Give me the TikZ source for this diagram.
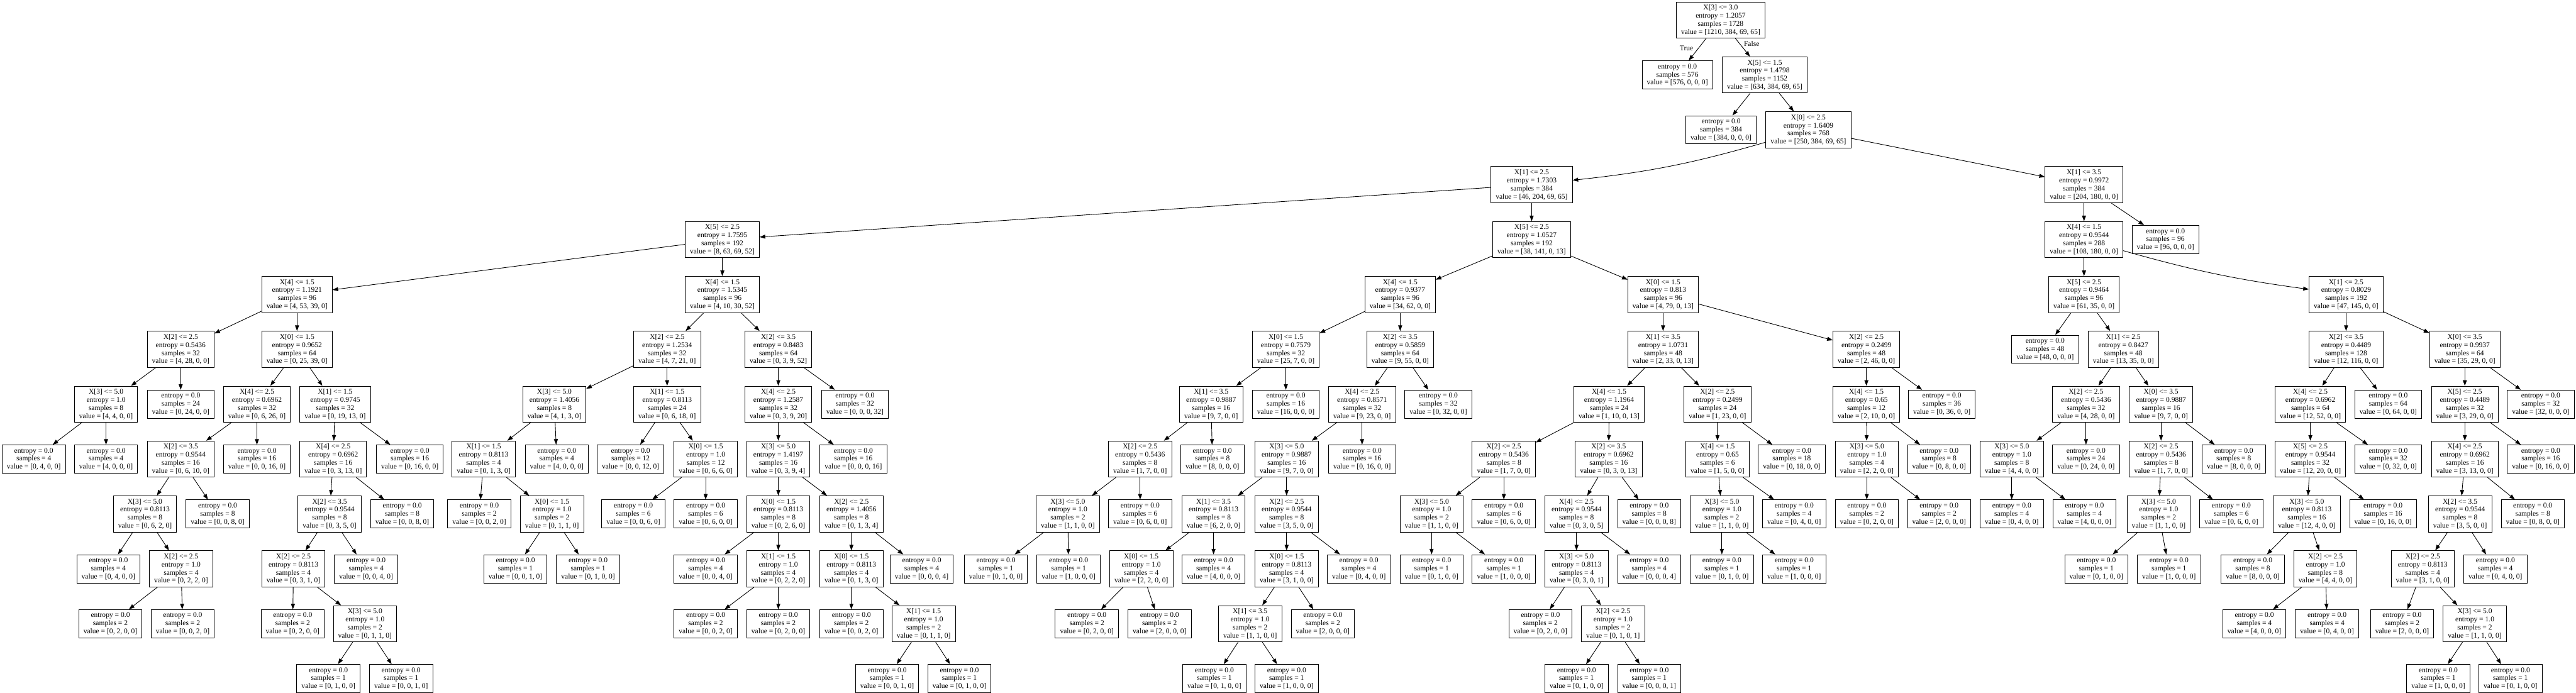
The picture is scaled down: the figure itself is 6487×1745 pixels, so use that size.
\documentclass[tikz,border=0pt]{standalone}
\usepackage{fontspec}
\setmainfont{Liberation Serif}
\usetikzlibrary{arrows.meta}
\newcommand{\Snode}[7]{\node[tbox,minimum height=0.91cm] (#1) at (#2,{50.5+138.2*#3}) {#4\\entropy = #5\\samples = #6\\value = [#7]};}
\newcommand{\Lnode}[5]{\node[tbox,minimum height=0.71cm] (#1) at (#2,{50.5+138.2*#3}) {entropy = 0.0\\samples = #4\\value = [#5]};}
\newcommand{\KK}[1]{\draw[edge] (#1) -- (#1l); \draw[edge] (#1) -- (#1r);}
\begin{document}
\begin{tikzpicture}[x=0.01cm, y=-0.01cm,
  tbox/.style={draw=black, line width=0.4pt, rectangle, align=center, inner xsep=0.12cm, inner ysep=0.04cm, font=\fontsize{5.2pt}{5.78pt}\selectfont},
  edge/.style={draw=black, line width=0.4pt, -{Triangle[length=0.14cm,width=0.1cm]}},
  lbl/.style={font=\fontsize{5.2pt}{5.78pt}\selectfont, inner sep=0pt}]
\fill[white] (0,0) rectangle (6487,1745);
\useasboundingbox (0,0) rectangle (6487,1745);
% top
\Snode{a}{4333}{0}{X[3] <= 3.0}{1.2057}{1728}{1210, 384, 69, 65}
\Lnode{al}{4224}{1}{576}{576, 0, 0, 0}
\Snode{ar}{4444}{1}{X[5] <= 1.5}{1.4798}{1152}{634, 384, 69, 65}
\Lnode{arl}{4334}{2}{384}{384, 0, 0, 0}
\Snode{arr}{4554}{2}{X[0] <= 2.5}{1.6409}{768}{250, 384, 69, 65}
\Snode{A}{3857}{3}{X[1] <= 2.5}{1.7303}{384}{46, 204, 69, 65}
\Snode{B}{5248}{3}{X[1] <= 3.5}{0.9972}{384}{204, 180, 0, 0}
% Al subtree
\Snode{Al}{1819}{4}{X[5] <= 2.5}{1.7595}{192}{8, 63, 69, 52}
\Snode{All}{748}{5}{X[4] <= 1.5}{1.1921}{96}{4, 53, 39, 0}
\Snode{Alll}{455}{6}{X[2] <= 2.5}{0.5436}{32}{4, 28, 0, 0}
\Snode{Allll}{267}{7}{X[3] <= 5.0}{1.0}{8}{4, 4, 0, 0}
\Lnode{Alllr}{455}{7}{24}{0, 24, 0, 0}
\Lnode{Alllll}{85}{8}{4}{0, 4, 0, 0}
\Lnode{Allllr}{267}{8}{4}{4, 0, 0, 0}
\Snode{Allr}{748}{6}{X[0] <= 1.5}{0.9652}{64}{0, 25, 39, 0}
\Snode{Allrl}{647}{7}{X[4] <= 2.5}{0.6962}{32}{0, 6, 26, 0}
\Snode{Allrll}{455}{8}{X[2] <= 3.5}{0.9544}{16}{0, 6, 10, 0}
\Lnode{Allrlr}{647}{8}{16}{0, 0, 16, 0}
\Snode{Allrlll}{365}{9}{X[3] <= 5.0}{0.8113}{8}{0, 6, 2, 0}
\Lnode{Allrllr}{548}{9}{8}{0, 0, 8, 0}
\Lnode{Allrllll}{273}{10}{4}{0, 4, 0, 0}
\Snode{Allrlllr}{456}{10}{X[2] <= 2.5}{1.0}{4}{0, 2, 2, 0}
\Lnode{Allrlllrl}{278}{11}{2}{0, 2, 0, 0}
\Lnode{Allrlllrr}{460}{11}{2}{0, 0, 2, 0}
\Snode{Allrr}{844}{7}{X[1] <= 1.5}{0.9745}{32}{0, 19, 13, 0}
\Snode{Allrrl}{839}{8}{X[4] <= 2.5}{0.6962}{16}{0, 3, 13, 0}
\Lnode{Allrrr}{1032}{8}{16}{0, 16, 0, 0}
\Snode{Allrrll}{830}{9}{X[2] <= 3.5}{0.9544}{8}{0, 3, 5, 0}
\Lnode{Allrrlr}{1013}{9}{8}{0, 0, 8, 0}
\Snode{Allrrlll}{739}{10}{X[2] <= 2.5}{0.8113}{4}{0, 3, 1, 0}
\Lnode{Allrrllr}{922}{10}{4}{0, 0, 4, 0}
\Lnode{Allrrllll}{737}{11}{2}{0, 2, 0, 0}
\Snode{Allrrlllr}{919}{11}{X[3] <= 5.0}{1.0}{2}{0, 1, 1, 0}
\Lnode{Allrrlllrl}{827}{12}{1}{0, 1, 0, 0}
\Lnode{Allrrlllrr}{1010}{12}{1}{0, 0, 1, 0}
% Alr subtree
\Snode{Alr}{1819}{5}{X[4] <= 1.5}{1.5345}{96}{4, 10, 30, 52}
\Snode{Alrl}{1680}{6}{X[2] <= 2.5}{1.2534}{32}{4, 7, 21, 0}
\Snode{Alrll}{1396}{7}{X[3] <= 5.0}{1.4056}{8}{4, 1, 3, 0}
\Snode{Alrlll}{1218}{8}{X[1] <= 1.5}{0.8113}{4}{0, 1, 3, 0}
\Lnode{Alrllr}{1402}{8}{4}{4, 0, 0, 0}
\Lnode{Alrllll}{1207}{9}{2}{0, 0, 2, 0}
\Snode{Alrlllr}{1390}{9}{X[0] <= 1.5}{1.0}{2}{0, 1, 1, 0}
\Lnode{Alrlllrl}{1298}{10}{1}{0, 0, 1, 0}
\Lnode{Alrlllrr}{1481}{10}{1}{0, 1, 0, 0}
\Snode{Alrlr}{1680}{7}{X[1] <= 1.5}{0.8113}{24}{0, 6, 18, 0}
\Lnode{Alrlrl}{1588}{8}{12}{0, 0, 12, 0}
\Snode{Alrlrr}{1777}{8}{X[0] <= 1.5}{1.0}{12}{0, 6, 6, 0}
\Lnode{Alrlrrl}{1595}{9}{6}{0, 0, 6, 0}
\Lnode{Alrlrrr}{1777}{9}{6}{0, 6, 0, 0}
\Snode{Alrr}{1960}{6}{X[2] <= 3.5}{0.8483}{64}{0, 3, 9, 52}
\Snode{Alrrl}{1960}{7}{X[4] <= 2.5}{1.2587}{32}{0, 3, 9, 20}
\Lnode{Alrrr}{2153}{7}{32}{0, 0, 0, 32}
\Snode{Alrrll}{1960}{8}{X[3] <= 5.0}{1.4197}{16}{0, 3, 9, 4}
\Lnode{Alrrlr}{2149}{8}{16}{0, 0, 0, 16}
\Snode{Alrrlll}{1960}{9}{X[0] <= 1.5}{0.8113}{8}{0, 2, 6, 0}
\Snode{Alrrllr}{2144}{9}{X[2] <= 2.5}{1.4056}{8}{0, 1, 3, 4}
\Lnode{Alrrllll}{1777}{10}{4}{0, 0, 4, 0}
\Snode{Alrrlllr}{1960}{10}{X[1] <= 1.5}{1.0}{4}{0, 2, 2, 0}
\Lnode{Alrrlllrl}{1777}{11}{2}{0, 0, 2, 0}
\Lnode{Alrrlllrr}{1960}{11}{2}{0, 2, 0, 0}
\Snode{Alrrllrl}{2144}{10}{X[0] <= 1.5}{0.8113}{4}{0, 1, 3, 0}
\Lnode{Alrrllrr}{2321}{10}{4}{0, 0, 0, 4}
\Lnode{Alrrllrll}{2144}{11}{2}{0, 0, 2, 0}
\Snode{Alrrllrlr}{2326}{11}{X[1] <= 1.5}{1.0}{2}{0, 1, 1, 0}
\Lnode{Alrrllrlrl}{2234}{12}{1}{0, 0, 1, 0}
\Lnode{Alrrllrlrr}{2416}{12}{1}{0, 1, 0, 0}
% Ar subtree
\Snode{Ar}{3857}{4}{X[5] <= 2.5}{1.0527}{192}{38, 141, 0, 13}
\Snode{Arl}{3526}{5}{X[4] <= 1.5}{0.9377}{96}{34, 62, 0, 0}
\Snode{Arll}{3238}{6}{X[0] <= 1.5}{0.7579}{32}{25, 7, 0, 0}
\Snode{Arlll}{3050}{7}{X[1] <= 3.5}{0.9887}{16}{9, 7, 0, 0}
\Lnode{Arllr}{3238}{7}{16}{16, 0, 0, 0}
\Snode{Arllll}{2871}{8}{X[2] <= 2.5}{0.5436}{8}{1, 7, 0, 0}
\Lnode{Arlllr}{3053}{8}{8}{8, 0, 0, 0}
\Snode{Arlllll}{2689}{9}{X[3] <= 5.0}{1.0}{2}{1, 1, 0, 0}
\Lnode{Arllllr}{2871}{9}{6}{0, 6, 0, 0}
\Lnode{Arllllll}{2508}{10}{1}{0, 1, 0, 0}
\Lnode{Arlllllr}{2691}{10}{1}{1, 0, 0, 0}
\Snode{Arlr}{3526}{6}{X[2] <= 3.5}{0.5859}{64}{9, 55, 0, 0}
\Snode{Arlrl}{3430}{7}{X[4] <= 2.5}{0.8571}{32}{9, 23, 0, 0}
\Lnode{Arlrr}{3622}{7}{32}{0, 32, 0, 0}
\Snode{Arlrll}{3240}{8}{X[3] <= 5.0}{0.9887}{16}{9, 7, 0, 0}
\Lnode{Arlrlr}{3430}{8}{16}{0, 16, 0, 0}
\Snode{Arlrlll}{3056}{9}{X[1] <= 3.5}{0.8113}{8}{6, 2, 0, 0}
\Snode{Arlrllr}{3240}{9}{X[2] <= 2.5}{0.9544}{8}{3, 5, 0, 0}
\Snode{Arlrllll}{2874}{10}{X[0] <= 1.5}{1.0}{4}{2, 2, 0, 0}
\Lnode{Arlrlllr}{3056}{10}{4}{4, 0, 0, 0}
\Lnode{Arlrlllll}{2737}{11}{2}{0, 2, 0, 0}
\Lnode{Arlrllllr}{2920}{11}{2}{2, 0, 0, 0}
\Snode{Arlrllrl}{3240}{10}{X[0] <= 1.5}{0.8113}{4}{3, 1, 0, 0}
\Lnode{Arlrllrr}{3422}{10}{4}{0, 4, 0, 0}
\Snode{Arlrllrll}{3148}{11}{X[1] <= 3.5}{1.0}{2}{1, 1, 0, 0}
\Lnode{Arlrllrlr}{3331}{11}{2}{2, 0, 0, 0}
\Lnode{Arlrllrlll}{3058}{12}{1}{0, 1, 0, 0}
\Lnode{Arlrllrllr}{3240}{12}{1}{1, 0, 0, 0}
\Snode{Arr}{4188}{5}{X[0] <= 1.5}{0.813}{96}{4, 79, 0, 13}
\Snode{Arrl}{4188}{6}{X[1] <= 3.5}{1.0731}{48}{2, 33, 0, 13}
\Snode{Arrll}{4052}{7}{X[4] <= 1.5}{1.1964}{24}{1, 10, 0, 13}
\Snode{Arrlll}{3787}{8}{X[2] <= 2.5}{0.5436}{8}{1, 7, 0, 0}
\Snode{Arrllll}{3605}{9}{X[3] <= 5.0}{1.0}{2}{1, 1, 0, 0}
\Lnode{Arrlllr}{3787}{9}{6}{0, 6, 0, 0}
\Lnode{Arrlllll}{3605}{10}{1}{0, 1, 0, 0}
\Lnode{Arrllllr}{3787}{10}{1}{1, 0, 0, 0}
\Snode{Arrllr}{4051}{8}{X[2] <= 3.5}{0.6962}{16}{0, 3, 0, 13}
\Snode{Arrllrl}{3970}{9}{X[4] <= 2.5}{0.9544}{8}{0, 3, 0, 5}
\Lnode{Arrllrr}{4153}{9}{8}{0, 0, 0, 8}
\Snode{Arrllrll}{3970}{10}{X[3] <= 5.0}{0.8113}{4}{0, 3, 0, 1}
\Lnode{Arrllrlr}{4153}{10}{4}{0, 0, 0, 4}
\Lnode{Arrllrlll}{3879}{11}{2}{0, 2, 0, 0}
\Snode{Arrllrllr}{4062}{11}{X[2] <= 2.5}{1.0}{2}{0, 1, 0, 1}
\Lnode{Arrllrllrl}{3970}{12}{1}{0, 1, 0, 0}
\Lnode{Arrllrllrr}{4153}{12}{1}{0, 0, 0, 1}
\Snode{Arrlr}{4325}{7}{X[2] <= 2.5}{0.2499}{24}{1, 23, 0, 0}
\Snode{Arrlrl}{4325}{8}{X[4] <= 1.5}{0.65}{6}{1, 5, 0, 0}
\Lnode{Arrlrr}{4512}{8}{18}{0, 18, 0, 0}
\Snode{Arrlrll}{4336}{9}{X[3] <= 5.0}{1.0}{2}{1, 1, 0, 0}
\Lnode{Arrlrlr}{4518}{9}{4}{0, 4, 0, 0}
\Lnode{Arrlrlll}{4336}{10}{1}{0, 1, 0, 0}
\Lnode{Arrlrllr}{4518}{10}{1}{1, 0, 0, 0}
\Snode{Arrr}{4700}{6}{X[2] <= 2.5}{0.2499}{48}{2, 46, 0, 0}
\Snode{Arrrl}{4700}{7}{X[4] <= 1.5}{0.65}{12}{2, 10, 0, 0}
\Lnode{Arrrr}{4890}{7}{36}{0, 36, 0, 0}
\Snode{Arrrll}{4701}{8}{X[3] <= 5.0}{1.0}{4}{2, 2, 0, 0}
\Lnode{Arrrlr}{4883}{8}{8}{0, 8, 0, 0}
\Lnode{Arrrlll}{4701}{9}{2}{0, 2, 0, 0}
\Lnode{Arrrllr}{4883}{9}{2}{2, 0, 0, 0}
% B subtree
\Snode{Bl}{5248}{4}{X[4] <= 1.5}{0.9544}{288}{108, 180, 0, 0}
\Lnode{Br}{5453}{4}{96}{96, 0, 0, 0}
\Snode{Bll}{5248}{5}{X[5] <= 2.5}{0.9464}{96}{61, 35, 0, 0}
\Lnode{Blll}{5150}{6}{48}{48, 0, 0, 0}
\Snode{Bllr}{5347}{6}{X[1] <= 2.5}{0.8427}{48}{13, 35, 0, 0}
\Snode{Bllrl}{5253}{7}{X[2] <= 2.5}{0.5436}{32}{4, 28, 0, 0}
\Snode{Bllrll}{5066}{8}{X[3] <= 5.0}{1.0}{8}{4, 4, 0, 0}
\Lnode{Bllrlr}{5253}{8}{24}{0, 24, 0, 0}
\Lnode{Bllrlll}{5066}{9}{4}{0, 4, 0, 0}
\Lnode{Bllrllr}{5249}{9}{4}{4, 0, 0, 0}
\Snode{Bllrr}{5442}{7}{X[0] <= 3.5}{0.9887}{16}{9, 7, 0, 0}
\Snode{Bllrrl}{5442}{8}{X[2] <= 2.5}{0.5436}{8}{1, 7, 0, 0}
\Lnode{Bllrrr}{5625}{8}{8}{8, 0, 0, 0}
\Snode{Bllrrll}{5436}{9}{X[3] <= 5.0}{1.0}{2}{1, 1, 0, 0}
\Lnode{Bllrrlr}{5619}{9}{6}{0, 6, 0, 0}
\Lnode{Bllrrlll}{5279}{10}{1}{0, 1, 0, 0}
\Lnode{Bllrrllr}{5462}{10}{1}{1, 0, 0, 0}
\Snode{Blr}{5908}{5}{X[1] <= 2.5}{0.8029}{192}{47, 145, 0, 0}
\Snode{Blrl}{5908}{6}{X[2] <= 3.5}{0.4489}{128}{12, 116, 0, 0}
\Snode{Blrll}{5818}{7}{X[4] <= 2.5}{0.6962}{64}{12, 52, 0, 0}
\Lnode{Blrlr}{6014}{7}{64}{0, 64, 0, 0}
\Snode{Blrlll}{5818}{8}{X[5] <= 2.5}{0.9544}{32}{12, 20, 0, 0}
\Lnode{Blrllr}{6014}{8}{32}{0, 32, 0, 0}
\Snode{Blrllll}{5809}{9}{X[3] <= 5.0}{0.8113}{16}{12, 4, 0, 0}
\Lnode{Blrlllr}{6001}{9}{16}{0, 16, 0, 0}
\Lnode{Blrlllll}{5673}{10}{8}{8, 0, 0, 0}
\Snode{Blrllllr}{5856}{10}{X[2] <= 2.5}{1.0}{8}{4, 4, 0, 0}
\Lnode{Blrllllrl}{5677}{11}{4}{4, 0, 0, 0}
\Lnode{Blrllllrr}{5860}{11}{4}{0, 4, 0, 0}
\Snode{Blrr}{6207}{6}{X[0] <= 3.5}{0.9937}{64}{35, 29, 0, 0}
\Snode{Blrrl}{6207}{7}{X[5] <= 2.5}{0.4489}{32}{3, 29, 0, 0}
\Lnode{Blrrr}{6398}{7}{32}{32, 0, 0, 0}
\Snode{Blrrll}{6207}{8}{X[4] <= 2.5}{0.6962}{16}{3, 13, 0, 0}
\Lnode{Blrrlr}{6398}{8}{16}{0, 16, 0, 0}
\Snode{Blrrlll}{6195}{9}{X[2] <= 3.5}{0.9544}{8}{3, 5, 0, 0}
\Lnode{Blrrllr}{6378}{9}{8}{0, 8, 0, 0}
\Snode{Blrrllll}{6101}{10}{X[2] <= 2.5}{0.8113}{4}{3, 1, 0, 0}
\Lnode{Blrrlllr}{6284}{10}{4}{0, 4, 0, 0}
\Lnode{Blrrlllll}{6049}{11}{2}{2, 0, 0, 0}
\Snode{Blrrllllr}{6232}{11}{X[3] <= 5.0}{1.0}{2}{1, 1, 0, 0}
\Lnode{Blrrllllrl}{6140}{12}{1}{1, 0, 0, 0}
\Lnode{Blrrllllrr}{6322}{12}{1}{0, 1, 0, 0}
% edge labels
\node[lbl] (tTrue) at (4247,121) {True};
\node[lbl] (tFalse) at (4411,110) {False};
% edges
\draw[edge] (a) -- (al); \draw[edge] (a) -- (ar);
\draw[edge] (ar) -- (arl); \draw[edge] (ar) -- (arr);
\draw[edge] (arr) to[bend left=5] (A); \draw[edge] (arr) -- (B);
\draw[edge] (B) -- (Bl); \draw[edge] (B) -- (Br);
\draw[edge] (Bl) -- (Bll); \draw[edge] (Bl) to[bend right=4] (Blr);
\KK{A}\KK{Al}\KK{All}\KK{Alll}\KK{Allll}\KK{Allr}\KK{Allrl}\KK{Allrll}\KK{Allrlll}\KK{Allrlllr}
\KK{Allrr}\KK{Allrrl}\KK{Allrrll}\KK{Allrrlll}\KK{Allrrlllr}
\KK{Alr}\KK{Alrl}\KK{Alrll}\KK{Alrlll}\KK{Alrlllr}\KK{Alrlr}\KK{Alrlrr}
\KK{Alrr}\KK{Alrrl}\KK{Alrrll}\KK{Alrrlll}\KK{Alrrlllr}\KK{Alrrllr}\KK{Alrrllrl}\KK{Alrrllrlr}
\KK{Ar}\KK{Arl}\KK{Arll}\KK{Arlll}\KK{Arllll}\KK{Arlllll}
\KK{Arlr}\KK{Arlrl}\KK{Arlrll}\KK{Arlrlll}\KK{Arlrllll}\KK{Arlrllr}\KK{Arlrllrl}\KK{Arlrllrll}
\KK{Arr}\KK{Arrl}\KK{Arrll}\KK{Arrlll}\KK{Arrllll}\KK{Arrllr}\KK{Arrllrl}\KK{Arrllrll}\KK{Arrllrllr}
\KK{Arrlr}\KK{Arrlrl}\KK{Arrlrll}\KK{Arrr}\KK{Arrrl}\KK{Arrrll}
\KK{Bll}\KK{Bllr}\KK{Bllrl}\KK{Bllrll}\KK{Bllrr}\KK{Bllrrl}\KK{Bllrrll}
\KK{Blr}\KK{Blrl}\KK{Blrll}\KK{Blrlll}\KK{Blrllll}\KK{Blrllllr}
\KK{Blrr}\KK{Blrrl}\KK{Blrrll}\KK{Blrrlll}\KK{Blrrllll}\KK{Blrrllllr}
\end{tikzpicture}
\end{document}
